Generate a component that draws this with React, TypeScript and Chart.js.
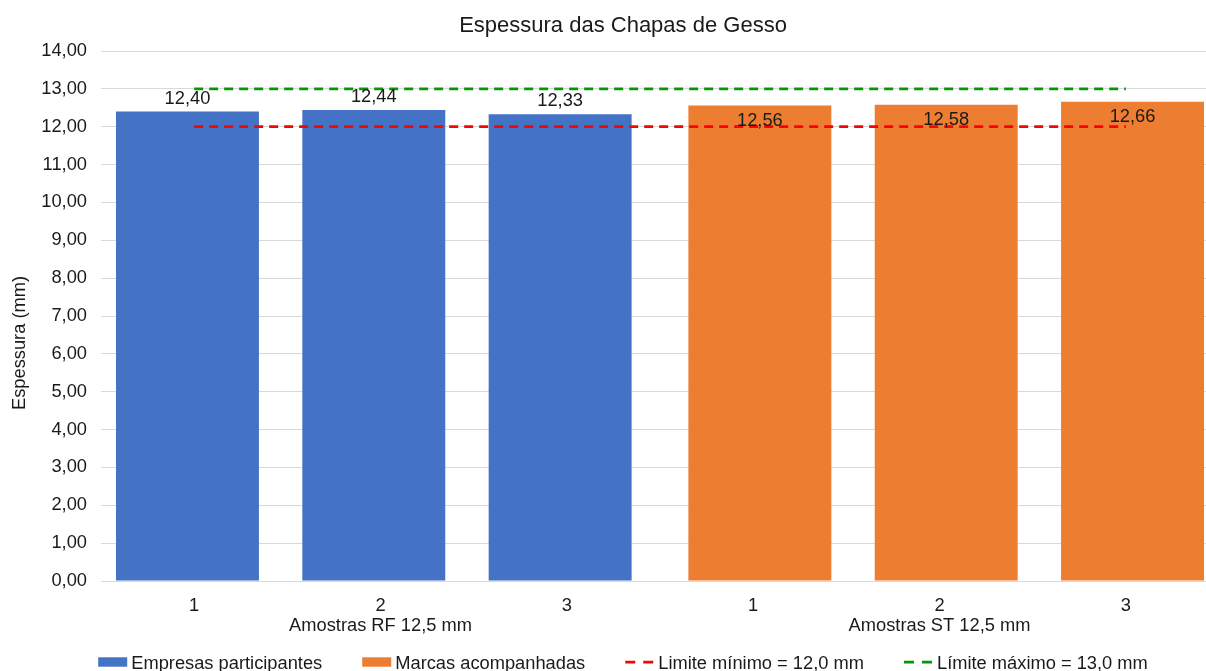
import React, { useEffect, useRef } from "react";
import { Chart, registerables } from "chart.js";

Chart.register(...registerables);

// ---- data ----
const categories = ["1", "2", "3", "1", "2", "3"];
const groupLabels = ["Amostras RF 12,5 mm", "Amostras ST 12,5 mm"];
const empresasParticipantes = [12.4, 12.44, 12.33, null, null, null];
const marcasAcompanhadas = [null, null, null, 12.56, 12.58, 12.66];
const limiteMinimo = [12.0, 12.0, 12.0, 12.0, 12.0, 12.0];
const limiteMaximo = [13.0, 13.0, 13.0, 13.0, 13.0, 13.0];
const yMin = 0;
const yMax = 14;
const yStep = 1;

const chartTitle = "Espessura das Chapas de Gesso";
const yAxisTitle = "Espessura (mm)";

// ---- styling ----
const FONT = '"Liberation Sans", Arial, Helvetica, sans-serif';
const TEXT = "#1a1a1a";
const GRID = "#d9d9d9";
const BLUE = "#4472C4";
const ORANGE = "#ED7D31";
const RED = "#FF0000";
const GREEN = "#009A00";
const SIZE = 18.3;
const TITLE_SIZE = 22;

const fmt = (v: number, d = 2) => v.toFixed(d).replace(".", ",");

// category labels: sample number on the first line, group name under the middle sample
const groupSize = 3;
const xLabels = categories.map((c, i) =>
  i % groupSize === 1 ? [c, groupLabels[Math.floor(i / groupSize)]] : [c, ""]
);

// value labels above (outside) or just inside the top of each bar
const valueLabels = {
  id: "valueLabels",
  afterDatasetsDraw(chart: any) {
    const ctx = chart.ctx;
    ctx.save();
    ctx.font = `${SIZE}px ${FONT}`;
    ctx.fillStyle = TEXT;
    ctx.textAlign = "center";
    ctx.textBaseline = "middle";
    chart.data.datasets.forEach((ds: any, di: number) => {
      if (ds.type !== "bar") return;
      const meta = chart.getDatasetMeta(di);
      meta.data.forEach((bar: any, i: number) => {
        const v = ds.data[i];
        if (v == null) return;
        const y = ds.labelPlacement === "inside" ? bar.y + 15.5 : bar.y - 13;
        ctx.fillText(fmt(v), bar.x, y);
      });
    });
    ctx.restore();
  },
};

// chart title centred on the whole canvas, and the rotated y axis title
const titles = {
  id: "titles",
  afterDraw(chart: any) {
    const ctx = chart.ctx;
    ctx.save();
    ctx.fillStyle = TEXT;
    ctx.textAlign = "center";
    ctx.textBaseline = "middle";
    ctx.font = `${TITLE_SIZE}px ${FONT}`;
    ctx.fillText(chartTitle, chart.width / 2, 26);

    ctx.translate(20, chart.height / 2);
    ctx.rotate(-Math.PI / 2);
    ctx.font = `${SIZE}px ${FONT}`;
    ctx.fillText(yAxisTitle, 0, 0);
    ctx.restore();
  },
};

// bottom legend: filled boxes for bars, short dashed strokes for limit lines
const bottomLegend = {
  id: "bottomLegend",
  afterDraw(chart: any) {
    const ctx = chart.ctx;
    const boxW = 29;
    const gap = 4;
    const itemGap = 40;
    const cy = chart.height - 24;
    ctx.save();
    ctx.font = `${SIZE}px ${FONT}`;
    const items = chart.data.datasets.map((ds: any) => ({
      ds,
      w: boxW + gap + ctx.measureText(ds.label).width,
    }));
    const total =
      items.reduce((s: number, it: any) => s + it.w, 0) + itemGap * (items.length - 1);
    let x = chart.width / 2 - total / 2;
    items.forEach(({ ds, w }: any) => {
      if (ds.type === "bar") {
        ctx.fillStyle = ds.backgroundColor;
        ctx.fillRect(x, cy - 4.7, boxW, 9.4);
      } else {
        ctx.strokeStyle = ds.borderColor;
        ctx.lineWidth = 2.75;
        ctx.setLineDash([10, 8]);
        ctx.beginPath();
        ctx.moveTo(x, cy);
        ctx.lineTo(x + boxW - 1, cy);
        ctx.stroke();
        ctx.setLineDash([]);
      }
      ctx.fillStyle = TEXT;
      ctx.textAlign = "left";
      ctx.textBaseline = "alphabetic";
      ctx.fillText(ds.label, x + boxW + gap, cy + 7);
      x += w + itemGap;
    });
    ctx.restore();
  },
};

export default function App() {
  const canvasRef = useRef<HTMLCanvasElement | null>(null);

  useEffect(() => {
    const canvas = canvasRef.current;
    if (!canvas) return;

    const chart = new Chart(canvas, {
      type: "bar",
      data: {
        labels: xLabels,
        datasets: [
          {
            type: "bar",
            label: "Empresas participantes",
            data: empresasParticipantes,
            backgroundColor: BLUE,
            borderWidth: 0,
            order: 1,
            categoryPercentage: 0.1438,
            barPercentage: 10.67,
            labelPlacement: "outside",
          } as any,
          {
            type: "bar",
            label: "Marcas acompanhadas",
            data: marcasAcompanhadas,
            backgroundColor: ORANGE,
            borderWidth: 0,
            order: 1,
            categoryPercentage: 0.1438,
            barPercentage: 10.67,
            labelPlacement: "inside",
          } as any,
          {
            type: "line",
            label: "Limite mínimo = 12,0 mm",
            data: limiteMinimo,
            borderColor: RED,
            backgroundColor: RED,
            borderWidth: 2.75,
            borderDash: [9, 6],
            pointRadius: 0,
            fill: false,
            tension: 0,
            order: 0,
          } as any,
          {
            type: "line",
            label: "Límite máximo = 13,0 mm",
            data: limiteMaximo,
            borderColor: GREEN,
            backgroundColor: GREEN,
            borderWidth: 2.75,
            borderDash: [9, 6],
            pointRadius: 0,
            fill: false,
            tension: 0,
            order: 0,
          } as any,
        ],
      },
      options: {
        responsive: false,
        animation: false,
        devicePixelRatio: 1,
        layout: { padding: { left: 0, right: 27, top: 51, bottom: 49 } },
        plugins: {
          legend: { display: false },
          tooltip: { enabled: false },
          title: { display: false },
        },
        scales: {
          x: {
            grid: { display: false, drawTicks: false },
            border: { display: true, color: GRID, width: 1 },
            ticks: {
              color: TEXT,
              font: { family: FONT, size: SIZE, lineHeight: 1.12 },
              padding: 14.5,
              maxRotation: 0,
              autoSkip: false,
            },
            afterFit: (s: any) => {
              s.height = 56;
            },
          },
          y: {
            min: yMin,
            max: yMax,
            ticks: {
              stepSize: yStep,
              color: TEXT,
              font: { family: FONT, size: SIZE },
              padding: 14,
              callback: (v: any) => fmt(Number(v)),
            },
            grid: { color: GRID, lineWidth: 1, drawTicks: false },
            border: { display: false },
            afterFit: (s: any) => {
              s.width = 101;
            },
          },
        },
      },
      plugins: [valueLabels, titles, bottomLegend],
    });

    return () => chart.destroy();
  }, []);

  return (
    <div
      style={{
        position: "fixed",
        left: 0,
        top: 0,
        width: 1206,
        height: 671,
        overflow: "hidden",
        background: "#ffffff",
      }}
    >
      <canvas
        ref={canvasRef}
        width={1246}
        height={686}
        style={{ display: "block", width: 1246, height: 686 }}
      />
    </div>
  );
}
